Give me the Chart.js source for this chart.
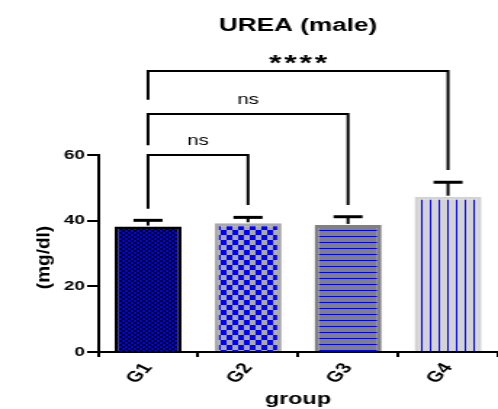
<!DOCTYPE html>
<html>
<head>
<meta charset="utf-8">
<script src="https://cdn.jsdelivr.net/npm/chart.js@4"></script>
<style>
  html, body { margin: 0; padding: 0; background: #fff; overflow: hidden; }
  /* the reference is drawn with wide text, so the chart is laid out narrow and stretched */
  #wrap { width: 343px; height: 409px; transform: scaleX(1.452); transform-origin: 0 0; }
</style>
</head>
<body>
<div id="wrap"><canvas id="mychart"></canvas></div>
<script>
const groups = ["G1", "G2", "G3", "G4"];
const means = [38.2, 39.2, 38.7, 47.3];
const sd = [1.9, 1.8, 2.5, 4.4];
const yTicks = [0, 20, 40, 60];

// comparisons: [from index, to index, bracket height, left leg end, right leg end, label]
const compA = [0, 1, 60.0, 43.6, 44.8, "ns"];
const compB = [0, 2, 72.5, 63.0, 44.8, "ns"];
const compC = [0, 3, 85.6, 76.8, 55.4, "****"];

const FONT = "'Liberation Sans', Arial, sans-serif";
const STRETCH = 1.452;

function makePattern(w, h, draw) {
  const c = document.createElement("canvas");
  c.width = w;
  c.height = h;
  draw(c.getContext("2d"), w, h);
  return c.getContext("2d").createPattern(c, "repeat");
}

const pat1 = makePattern(4, 4, (g, w, h) => {
  g.fillStyle = "#000";
  g.fillRect(0, 0, w, h);
  g.fillStyle = "#0000ff";
  g.fillRect(0, 0, 2, 2);
  g.fillRect(2, 2, 2, 2);
});
const pat2 = makePattern(8, 10, (g, w, h) => {
  g.fillStyle = "#a9a9a9";
  g.fillRect(0, 0, w, h);
  g.fillStyle = "#0000ff";
  g.fillRect(0, 0, 4, 5);
  g.fillRect(4, 5, 4, 5);
});
const pat3 = makePattern(6, 6, (g, w, h) => {
  g.fillStyle = "#808080";
  g.fillRect(0, 0, w, h);
  g.fillStyle = "#0000ff";
  g.fillRect(0, 2, w, 1);
});
const pat4 = makePattern(6, 6, (g, w, h) => {
  g.fillStyle = "#d3d3d3";
  g.fillRect(0, 0, w, h);
  g.fillStyle = "#0000ff";
  g.fillRect(2, 0, 1, h);
});

const extras = {
  id: "extras",
  afterDatasetsDraw(chart) {
    const ctx = chart.ctx;
    const x = chart.scales.x;
    const y = chart.scales.y;
    ctx.save();
    ctx.strokeStyle = "#000";
    ctx.lineCap = "butt";
    // error bars (upper only)
    means.forEach((m, i) => {
      const cx = x.getPixelForValue(i);
      const top = y.getPixelForValue(m + sd[i]);
      ctx.lineWidth = 2;
      ctx.beginPath();
      ctx.moveTo(cx, y.getPixelForValue(m) - 1);
      ctx.lineTo(cx, top);
      ctx.stroke();
      ctx.lineWidth = 3;
      ctx.beginPath();
      ctx.moveTo(cx - 10, top);
      ctx.lineTo(cx + 10, top);
      ctx.stroke();
    });
    // significance brackets
    ctx.lineWidth = 2;
    ctx.fillStyle = "#000";
    ctx.textAlign = "center";
    ctx.textBaseline = "alphabetic";
    [compA, compB, compC].forEach(c => {
      const x1 = x.getPixelForValue(c[0]);
      const x2 = x.getPixelForValue(c[1]);
      const yb = y.getPixelForValue(c[2]);
      ctx.beginPath();
      ctx.moveTo(x1, y.getPixelForValue(c[3]));
      ctx.lineTo(x1, yb);
      ctx.lineTo(x2, yb);
      ctx.lineTo(x2, y.getPixelForValue(c[4]));
      ctx.stroke();
      if (c[5] === "ns") {
        ctx.font = "14px " + FONT;
        ctx.letterSpacing = "0px";
        ctx.fillText(c[5], (x1 + x2) / 2, yb - 10);
      } else {
        ctx.font = "bold 22px " + FONT;
        ctx.letterSpacing = "2px";
        ctx.fillText(c[5], (x1 + x2) / 2 + 1, yb - 1);
        ctx.letterSpacing = "0px";
      }
    });
    ctx.restore();
  },
  afterDraw(chart) {
    // y axis title, drawn unstretched
    const ctx = chart.ctx;
    const y = chart.scales.y;
    ctx.save();
    ctx.translate(44 / STRETCH, (y.top + y.bottom) / 2 + 4);
    ctx.scale(1 / STRETCH, 1);
    ctx.rotate(-Math.PI / 2);
    ctx.font = "bold 19px " + FONT;
    ctx.fillStyle = "#000";
    ctx.textAlign = "center";
    ctx.textBaseline = "middle";
    ctx.fillText("(mg/dl)", 0, 0);
    ctx.restore();
  }
};

new Chart(document.getElementById("mychart").getContext("2d"), {
  type: "bar",
  data: {
    labels: groups,
    datasets: [
      {
        label: "UREA",
        data: means,
        backgroundColor: [pat1, pat2, pat3, pat4],
        borderColor: ["#000", "#a9a9a9", "#808080", "#d3d3d3"],
        borderWidth: [2.5, 3, 3, 3],
        barPercentage: 0.67,
        categoryPercentage: 1,
      },
    ],
  },
  options: {
    responsive: true,
    maintainAspectRatio: false,
    animation: false,
    layout: {
      padding: { top: 0, left: 0, right: 0, bottom: 0 },
    },
    plugins: {
      legend: { display: false },
      tooltip: { enabled: false },
      title: {
        display: true,
        fullSize: false,
        text: "UREA (male)",
        color: "#000",
        font: { family: FONT, size: 18, weight: "bold" },
        padding: { top: 15, bottom: 118.4 },
      },
    },
    scales: {
      x: {
        afterFit(scale) {
          scale.height = 57;
        },
        grid: {
          drawOnChartArea: false,
          drawTicks: true,
          tickLength: 5,
          color: "#000",
          lineWidth: 2,
        },
        border: { color: "#000", width: 2 },
        ticks: {
          color: "#000",
          maxRotation: 55,
          minRotation: 55,
          padding: 3,
          font: { family: FONT, size: 15, weight: "bold" },
        },
        title: {
          display: true,
          text: "group",
          color: "#000",
          padding: { top: 0, bottom: 0 },
          font: { family: FONT, size: 16, weight: "bold" },
        },
      },
      y: {
        min: 0,
        max: 60,
        afterBuildTicks(scale) {
          scale.ticks = yTicks.map(v => ({ value: v }));
        },
        afterFit(scale) {
          scale.width = 67.5;
        },
        grid: {
          drawOnChartArea: false,
          drawTicks: true,
          tickLength: 7.5,
          color: "#000",
          lineWidth: 2,
        },
        border: { color: "#000", width: 2 },
        ticks: {
          color: "#000",
          padding: 1.5,
          font: { family: FONT, size: 13, weight: "bold" },
        },
      },
    },
  },
  plugins: [extras],
});
</script>
</body>
</html>
